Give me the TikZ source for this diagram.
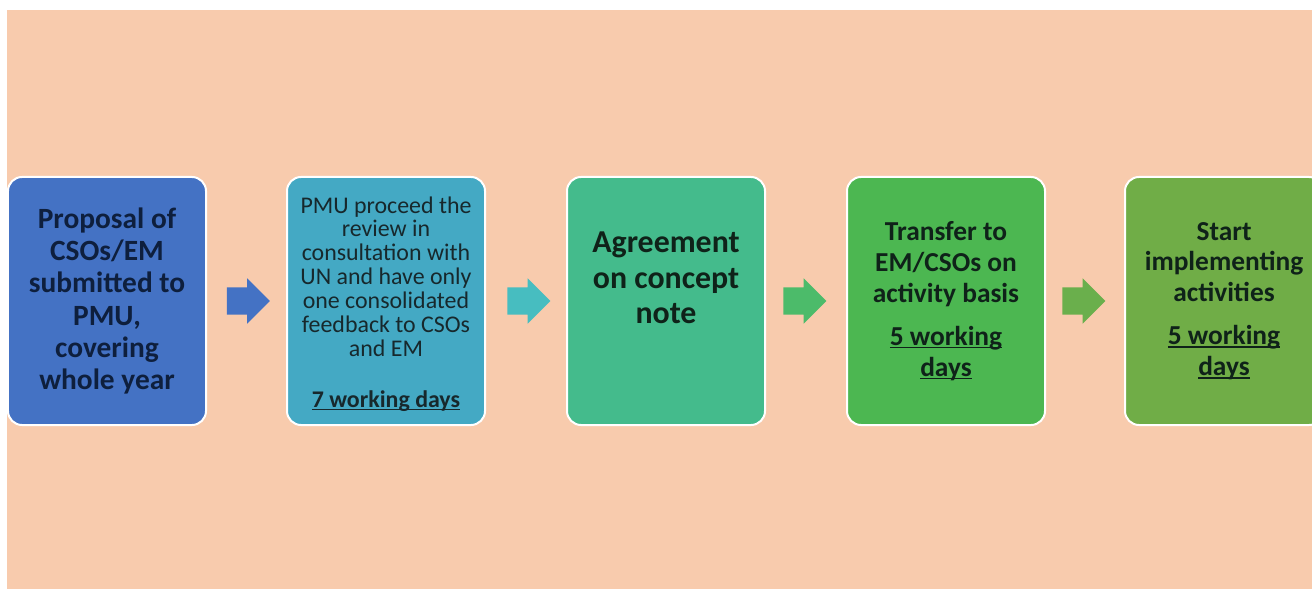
\documentclass[tikz,border=0pt]{standalone}
\usepackage{fontspec}
\setmainfont{Carlito}
\usetikzlibrary{shapes.arrows,calc}
\definecolor{bgpeach}{HTML}{F8CBAD}
\definecolor{cA}{HTML}{4472C4}
\definecolor{cB}{HTML}{44A9C4}
\definecolor{cC}{HTML}{44BB8C}
\definecolor{cD}{HTML}{4CB751}
\definecolor{cE}{HTML}{70AD47}
\definecolor{aB}{HTML}{47BDC0}
\definecolor{aC}{HTML}{4CBB6A}
\definecolor{aD}{HTML}{6AAF4C}
\definecolor{tA}{HTML}{0E1F3D}
\definecolor{tB}{HTML}{17282C}
\definecolor{tC}{HTML}{0F2219}
\newcommand\myul[1]{\setbox0\hbox{#1}\rlap{\rule[-3pt]{\wd0}{1.5pt}}\box0}
\tikzset{
  stepbox/.style={draw=white, line width=2bp, rounded corners=14bp,
    minimum width=198bp, minimum height=248bp, inner sep=0pt},
  boxtext/.style={align=center, inner sep=0pt},
  blockarrow/.style={single arrow, minimum height=43bp, minimum width=45bp,
    single arrow head extend=9bp, single arrow head indent=0pt,
    inner xsep=0pt, inner ysep=13.5bp, draw=none}
}
\begin{document}
\begin{tikzpicture}[x=1bp,y=-1bp]
\useasboundingbox (0,0) rectangle (1312,589);
\fill[white] (0,0) rectangle (1312,589);
\fill[bgpeach] (7,10) rectangle (1312,589);
\begin{scope}
\clip (0,0) rectangle (1312,589);
\node[stepbox, fill=cA] (b1) at (107,301) {};
\node[stepbox, fill=cB] (b2) at (386,301) {};
\node[stepbox, fill=cC] (b3) at (666,301) {};
\node[stepbox, fill=cD] (b4) at (946,301) {};
\node[stepbox, fill=cE] (b5) at (1224,301) {};
\end{scope}
\node[boxtext, text=tA, font=\fontsize{29.5}{32.5}\selectfont\bfseries] (t1) at (b1.center)
  {Proposal\ of\\CSOs/EM\\submitted to\\PMU,\\covering\\whole year};
\node[boxtext, text=tB, font=\fontsize{24}{24}\selectfont] (t2) at ([yshift=-3pt]b2.center)
  {PMU proceed the\\review in\\consultation with\\UN and have only\\one consolidated\\feedback to CSOs\\and EM\\[27bp]\textbf{\myul{7 working days}}};
\node[boxtext, text=tC, font=\fontsize{32}{35.5}\selectfont\bfseries] (t3) at ([yshift=23pt]b3.center)
  {Agreement\\on concept\\note};
\node[boxtext, text=tC, font=\fontsize{27.5}{31}\selectfont\bfseries] (t4) at (b4.center)
  {Transfer to\\EM/CSOs on\\activity basis\\[12bp]\myul{5 working}\\\myul{days}};
\node[boxtext, text=tC, font=\fontsize{27.5}{31}\selectfont\bfseries] (t5) at (b5.center)
  {Start\\implementing\\activities\\[12bp]\myul{5 working}\\\myul{days}};
\node[blockarrow, fill=cA] (a1) at ($(b1.east)!0.5!(b2.west)+(-5,0)$) {};
\node[blockarrow, fill=aB] (a2) at ($(b2.east)!0.5!(b3.west)+(-4,0)$) {};
\node[blockarrow, fill=aC] (a3) at ($(b3.east)!0.5!(b4.west)+(-8,0)$) {};
\node[blockarrow, fill=aD] (a4) at ($(b4.east)!0.5!(b5.west)+(-8,0)$) {};
\end{tikzpicture}
\end{document}
